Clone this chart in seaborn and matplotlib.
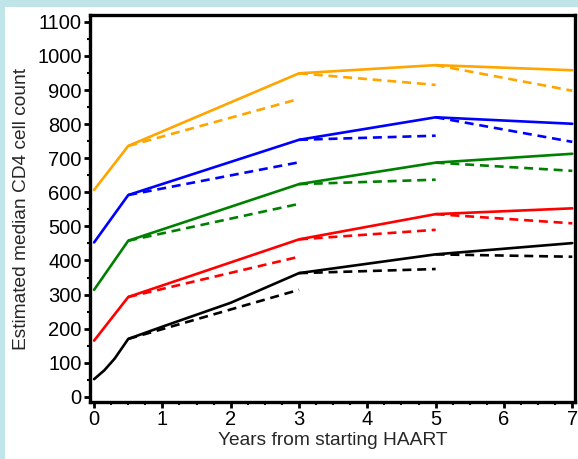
import numpy as np
import pandas as pd
import matplotlib
matplotlib.use("Agg")
import matplotlib.pyplot as plt
import seaborn as sns
from matplotlib.ticker import MultipleLocator

# ---- data ----
groups = ["orange", "blue", "green", "red", "black"]
colors = {"orange": "#FFA500", "blue": "#0000FF", "green": "#008000",
          "red": "#FF0000", "black": "#000000"}

years_main = [0, 0.5, 3, 5, 7]
solid_orange = [607, 736, 949, 973, 958]
solid_blue = [453, 592, 754, 820, 801]
solid_green = [314, 458, 624, 687, 713]
solid_red = [165, 293, 462, 536, 553]

years_black = [0, 0.15, 0.3, 0.5, 1, 2, 3, 5, 7]
solid_black = [52, 78, 112, 170, 206, 276, 363, 418, 451]

# dashed branches: start at solid value, end value given
branch_05_to_3 = {"orange": 874, "blue": 688, "green": 566, "red": 411, "black": 314}
branch_3_to_5 = {"orange": 915, "blue": 766, "green": 637, "red": 490, "black": 375}
branch_5_to_7 = {"orange": 898, "blue": 748, "green": 663, "red": 509, "black": 411}

y_ticks = list(range(0, 1101, 100))
x_ticks = list(range(0, 8))

# ---- build tables ----
solid_vals = {"orange": solid_orange, "blue": solid_blue, "green": solid_green,
              "red": solid_red, "black": solid_black}
rows = []
for g in groups:
    xs = years_black if g == "black" else years_main
    for x, y in zip(xs, solid_vals[g]):
        rows.append({"years": x, "cd4": y, "group": g})
solid_df = pd.DataFrame(rows)

def solid_at(g, x):
    xs = years_black if g == "black" else years_main
    return solid_vals[g][xs.index(x)]

drows = []
for g in groups:
    for (x0, x1, ends) in [(0.5, 3, branch_05_to_3), (3, 5, branch_3_to_5), (5, 7, branch_5_to_7)]:
        seg = f"{g}_{x0}"
        drows.append({"years": x0, "cd4": solid_at(g, x0), "group": g, "seg": seg})
        drows.append({"years": x1, "cd4": ends[g], "group": g, "seg": seg})
dashed_df = pd.DataFrame(drows)

# ---- figure ----
sns.set_style("ticks")
plt.rcParams['font.family'] = ['Liberation Sans', 'DejaVu Sans']

fig = plt.figure(figsize=(5.78, 4.59), dpi=100)
fig.patch.set_facecolor("#c0e5e8")
bg = fig.add_axes([5 / 578, 0, 1 - 5 / 578, (459 - 7) / 459], zorder=-5)
bg.set_facecolor("white")
bg.set_xticks([]); bg.set_yticks([])
for sp in bg.spines.values():
    sp.set_visible(False)

ax = fig.add_axes([90 / 578, (459 - 402) / 459, (575 - 90) / 578, (402 - 15) / 459], zorder=1)
ax.set_facecolor("white")

lw = 1.9
sns.lineplot(data=solid_df, x="years", y="cd4", hue="group", palette=colors,
             estimator=None, sort=False, legend=False, linewidth=lw, ax=ax)
for g in groups:
    sub = dashed_df[dashed_df["group"] == g]
    for seg, sdf in sub.groupby("seg"):
        sns.lineplot(data=sdf, x="years", y="cd4", color=colors[g], estimator=None,
                     sort=False, legend=False, linewidth=lw,
                     linestyle=(0, (3.4, 2.2)), ax=ax)

ax.set_xlim(-0.06, 7.04)
ax.set_ylim(-15, 1120)
ax.set_xticks(x_ticks)
ax.set_yticks(y_ticks)
ax.xaxis.set_minor_locator(MultipleLocator(0.25))
ax.yaxis.set_minor_locator(MultipleLocator(50))
ax.tick_params(axis="both", which="major", direction="out", length=4, width=2,
               labelsize=14.5, pad=2, color="black", labelcolor="black")
ax.tick_params(axis="both", which="minor", direction="out", length=2.5, width=1.5,
               color="black")
for sp in ax.spines.values():
    sp.set_visible(True)
    sp.set_linewidth(2.4)
    sp.set_color("black")

ax.set_xlabel("Years from starting HAART", fontsize=13.8, labelpad=2)
ax.set_ylabel("Estimated median CD4 cell count", fontsize=13.8, labelpad=5)

fig.savefig("out.png", dpi=100, facecolor=fig.get_facecolor())
